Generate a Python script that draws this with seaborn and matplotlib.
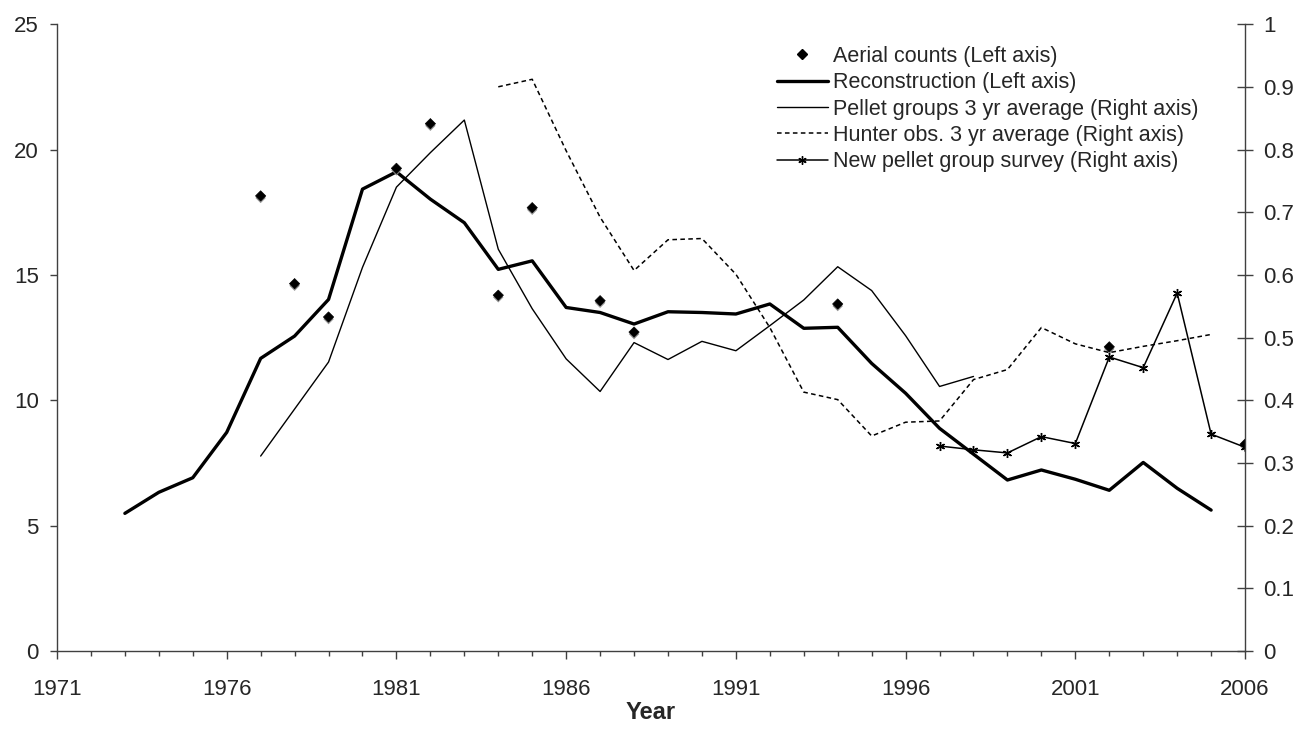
import matplotlib
matplotlib.use('Agg')
import matplotlib.pyplot as plt
import matplotlib.patheffects as pe
from matplotlib.ticker import MultipleLocator
from matplotlib.lines import Line2D
import seaborn as sns

# values
aerial_years = [1977, 1978, 1979, 1981, 1982, 1984, 1985, 1987, 1988, 1994, 2002, 2006]
aerial_counts = [18.15, 14.65, 13.32, 19.25, 21.03, 14.19, 17.68, 13.97, 12.72, 13.84, 12.13, 8.25]

recon_years = list(range(1973, 2006))
reconstruction = [5.49, 6.33, 6.91, 8.72, 11.67, 12.56, 14.02, 18.42, 19.11, 18.02, 17.08,
                  15.22, 15.56, 13.70, 13.50, 13.04, 13.53, 13.50, 13.44, 13.84, 12.87,
                  12.91, 11.47, 10.28, 8.88, 7.85, 6.82, 7.22, 6.85, 6.41, 7.52, 6.49, 5.62]

pellet_years = list(range(1977, 1999))
pellet_avg = [0.311, 0.386, 0.461, 0.612, 0.740, 0.795, 0.847, 0.641, 0.546, 0.466, 0.414,
              0.492, 0.465, 0.494, 0.479, 0.519, 0.560, 0.613, 0.575, 0.503, 0.422, 0.438]

hunter_years = list(range(1984, 2006))
hunter_avg = [0.900, 0.912, 0.798, 0.692, 0.607, 0.656, 0.658, 0.601, 0.516, 0.413, 0.401,
              0.343, 0.365, 0.367, 0.433, 0.449, 0.516, 0.490, 0.476, 0.486, 0.495, 0.505]

new_years = list(range(1997, 2007))
new_pellet = [0.327, 0.321, 0.316, 0.342, 0.331, 0.469, 0.452, 0.571, 0.346, 0.325]

labels = ['Aerial counts (Left axis)', 'Reconstruction (Left axis)',
          'Pellet groups 3 yr average (Right axis)', 'Hunter obs. 3 yr average (Right axis)',
          'New pellet group survey (Right axis)']

x_ticks = list(range(1971, 2007, 5))
right_ticks = [0, 0.1, 0.2, 0.3, 0.4, 0.5, 0.6, 0.7, 0.8, 0.9, 1]
right_labels = ['0', '0.1', '0.2', '0.3', '0.4', '0.5', '0.6', '0.7', '0.8', '0.9', '1']

sns.set_style('white')
plt.rcParams['font.family'] = ['Liberation Sans', 'DejaVu Sans']
plt.rcParams['font.size'] = 16

fig = plt.figure(figsize=(13.04, 7.31), dpi=100)
ax = fig.add_axes([0.0437, 0.1094, 0.9111, 0.8576])
ax2 = ax.twinx()

dash = (0, (3, 2.2))
star = (6, 2, 0)

# left axis series
sns.lineplot(x=recon_years, y=reconstruction, ax=ax, color='black', lw=2.4, zorder=3)
sc = sns.scatterplot(x=aerial_years, y=aerial_counts, ax=ax, marker='D', s=28,
                     color='black', edgecolor='black', zorder=4)
sc.collections[-1].set_path_effects([
    pe.SimplePatchShadow(offset=(0, -1.5), shadow_rgbFace='#888888', alpha=0.9), pe.Normal()])

# right axis series
sns.lineplot(x=pellet_years, y=pellet_avg, ax=ax2, color='black', lw=1.0)
sns.lineplot(x=hunter_years, y=hunter_avg, ax=ax2, color='black', lw=1.1, linestyle=dash)
sns.lineplot(x=new_years, y=new_pellet, ax=ax2, color='black', lw=1.1,
             marker=star, markersize=6.5, markeredgewidth=1.0, markeredgecolor='black')

ax.set_xlim(1971, 2006)
ax.set_ylim(0, 25)
ax2.set_ylim(0, 1)

ax.set_xticks(x_ticks)
ax.xaxis.set_minor_locator(MultipleLocator(1))
ax.yaxis.set_major_locator(MultipleLocator(5))
ax2.set_yticks(right_ticks)
ax2.set_yticklabels(right_labels)

spine_col = '#404040'
for a in (ax, ax2):
    a.spines['top'].set_visible(False)
    for s in ('left', 'right', 'bottom'):
        a.spines[s].set_color(spine_col)
        a.spines[s].set_linewidth(1.0)
    a.set_ylabel('')
ax.spines['right'].set_visible(False)
ax2.spines['left'].set_visible(False)
ax2.spines['bottom'].set_visible(False)

ax.tick_params(axis='x', which='major', direction='out', length=6, width=1,
               color=spine_col, pad=14, labelsize=16, bottom=True)
ax.tick_params(axis='x', which='minor', direction='out', length=3.6, width=1,
               color=spine_col, bottom=True)
ax.tick_params(axis='y', which='major', direction='out', length=5, width=1,
               color=spine_col, pad=8, labelsize=16, left=True)
ax2.tick_params(axis='y', which='major', direction='inout', length=11.5, width=1,
                color=spine_col, pad=7, labelsize=16, right=True)

ax.set_xlabel('Year', fontsize=17, fontweight='bold', labelpad=1)

handles = [
    Line2D([], [], ls='none', marker='D', ms=5, color='black'),
    Line2D([], [], color='black', lw=2.4),
    Line2D([], [], color='black', lw=1.0),
    Line2D([], [], color='black', lw=1.1, ls=dash),
    Line2D([], [], color='black', lw=1.1, marker=star, ms=6),
]
ax2.legend(handles, labels, loc='upper left', bbox_to_anchor=(0.606, 0.9655),
           frameon=False, fontsize=15.5, handlelength=2.37, handletextpad=0.23,
           labelspacing=0.25, borderaxespad=0, borderpad=0)

fig.savefig('out.png', dpi=100)
